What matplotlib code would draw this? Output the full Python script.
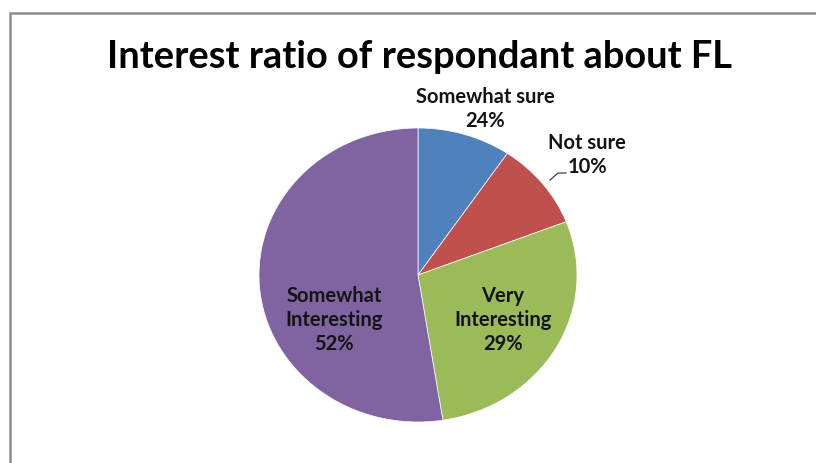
import matplotlib
matplotlib.use("Agg")
import matplotlib.pyplot as plt
from matplotlib.patches import Rectangle

# slices as drawn (clockwise from 12 o'clock)
categories = ["Somewhat sure", "Not sure", "Very\nInteresting", "Somewhat\nInteresting"]
values = [9.5, 9.6, 28.4, 52.5]
pct_labels = ["24%", "10%", "29%", "52%"]
colors = ["#4F81BD", "#C0504D", "#9BBB59", "#8064A2"]

W, H = 816, 464
fig = plt.figure(figsize=(W / 100, H / 100), dpi=100)

# outer chart-area frame
fig.patches.append(Rectangle((10 / W, -0.1), 1.1, (H - 14) / H + 0.1,
                             transform=fig.transFigure, fill=False,
                             edgecolor="#8c8c8c", linewidth=1.8))

fig.text(420 / W, 1 - 57 / H, "Interest ratio of respondant about FL",
         ha="center", va="center", fontsize=27.4, fontweight="bold",
         family="Lato", color="black")

cx, cy, rx, ry = 418, 276, 159, 147
ax = fig.add_axes([(cx - rx) / W, (H - cy - ry) / H, 2 * rx / W, 2 * ry / H])
ax.pie(values, colors=colors, startangle=90, counterclock=False,
       wedgeprops=dict(linewidth=0.5, edgecolor="white"))
ax.set_aspect("auto")
ax.set_xlim(-1, 1)
ax.set_ylim(-1, 1)
ax.axis("off")

def px(x, y):
    return (x - cx) / rx, (cy - y) / ry

tkw = dict(ha="center", va="center", fontsize=14.5, fontweight="bold",
           family="Lato", color="#141414", linespacing=1.27)

# label positions (pixel centers)
pos = [(485, 109), (587, 155), (503, 320), (334, 320)]
for cat, pct, (x, y) in zip(categories, pct_labels, pos):
    ax.text(*px(x, y), cat + "\n" + pct, clip_on=False, **tkw)

# leader line for "Not sure"
lx, ly = zip(px(550, 181), px(558, 174), px(566, 174))
ax.plot(lx, ly, color="#404040", linewidth=0.9, clip_on=False)

fig.savefig("out.png", dpi=100, facecolor="white")
